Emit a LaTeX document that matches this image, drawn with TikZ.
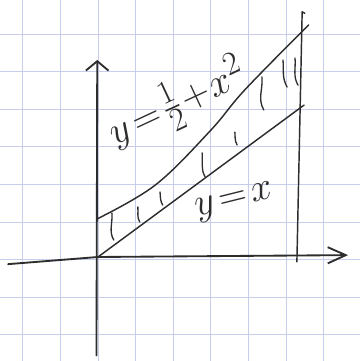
\documentclass[tikz,border=0pt]{standalone}
\usepackage{amsmath}
\usetikzlibrary{arrows.meta}
\definecolor{quadricula}{RGB}{200,205,235}
\definecolor{llapis}{RGB}{45,45,45}

\begin{document}
\begin{tikzpicture}[
    pencil/.style={draw=llapis, line width=1.1pt, line cap=round, line join=round},
    axisline/.style={pencil, line width=1.4pt},
    hatchmark/.style={pencil, line width=1pt},
    curvelabel/.style={text=llapis, font=\Huge, scale=1.2, inner sep=0pt}
]
    % Full quadriculat
    \useasboundingbox[fill=white] (-2.606,-2.766) rectangle (6.968,6.835);
    \foreach \i in {-2,...,6} {
        \draw[quadricula, line width=0.6pt] (\i,-2.766) -- (\i,6.835);
        \draw[quadricula, line width=0.6pt] (-2.606,\i-0.07) -- (6.968,\i-0.07);
    }

    % Eixos
    \coordinate (O) at (0,0);
    \coordinate (xl) at (-2.39,-0.19);
    \coordinate (xr) at (6.65,0.05);
    \coordinate (yb) at (-0.04,-2.62);
    \coordinate (yt) at (-0.02,5.24);
    \draw[axisline, -{Straight Barb[length=4.8mm,width=4.3mm]}] (xl) -- (O) -- (xr);
    \draw[axisline, -{Straight Barb[length=2.5mm,width=6mm]}] (yb) -- (yt);

    % Recta x = b
    \coordinate (bt) at (5.43,6.52);
    \coordinate (bb) at (5.29,-0.13);
    \draw[pencil] (bb) -- (bt) -- ++(0.07,-0.04);

    % y = x
    \coordinate (yx) at (5.48,4.04);
    \draw[pencil] (O) -- (yx);

    % y = 1/2 + x^2
    \draw[pencil] plot[smooth, tension=0.6] coordinates
        {(-0.03,1.01) (1.52,1.91) (2.98,3.35) (3.91,4.45) (5.6,6.17)};

    % Ratllat entre les corbes
    \foreach \xt/\yt/\xd/\yd in {0.37/1.17/0.42/0.45, 1.06/1.33/1.11/0.93,
        1.65/1.73/1.72/1.38, 2.77/2.77/2.85/2.13, 3.64/3.32/3.70/2.98,
        4.36/4.79/4.41/3.91, 4.92/5.24/5.03/4.52, 5.24/5.29/5.32/4.57}
        \draw[hatchmark] (\xt,\yt) to[out=-85,in=120] (\xd,\yd);

    % Etiquetes
    \node[curvelabel, rotate=25] (lblcurve) at (2.12,4.08) {$y\!=\!\frac{1}{2}\!+\!x^2$};
    \node[curvelabel, rotate=14] (lblline) at (3.63,1.45) {$y\!=\!x$};
\end{tikzpicture}
\end{document}
